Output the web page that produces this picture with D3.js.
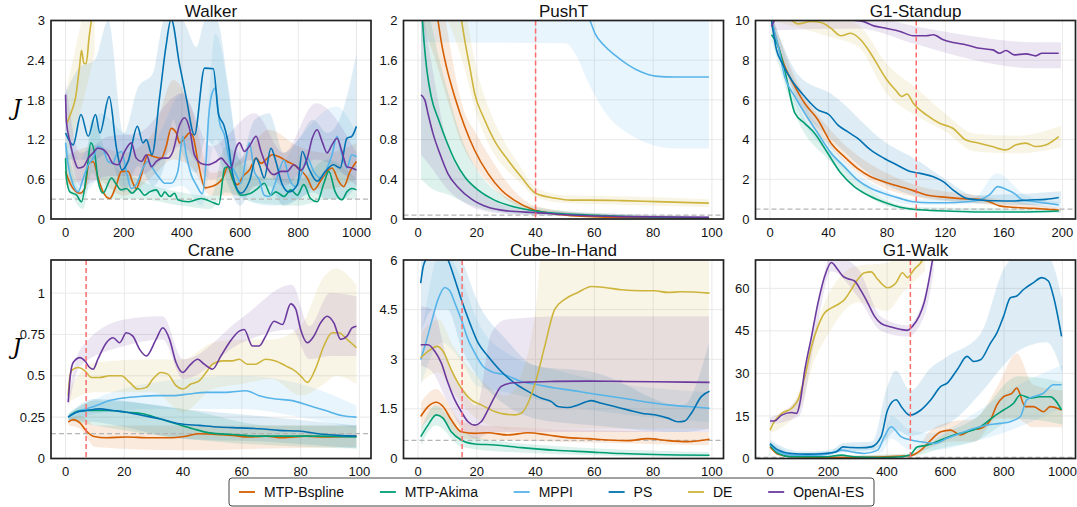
<!DOCTYPE html>
<html>
<head>
<meta charset="utf-8">
<script src="https://cdn.jsdelivr.net/npm/d3@7"></script>
<style>
  body { margin: 0; background: #fff; }
  svg { display: block; font-family: "Liberation Sans", Arial, sans-serif; }
  .grid line { stroke: #e9e9e9; stroke-width: 1; }
  .tick-label { font-size: 13px; fill: #111; }
  .title { font-size: 17px; fill: #111; }
  .frame { fill: none; stroke: #222; stroke-width: 1.7; }
  .mean { fill: none; stroke-width: 1.6; stroke-linejoin: round; }
  .band { opacity: 0.13; }
  .legend-text { font-size: 14px; fill: #111; }
</style>
</head>
<body>
<svg id="chart" width="1077" height="507"></svg>
<script>
// methods and colours
const methods = ['MTP-Bspline', 'MTP-Akima', 'MPPI', 'PS', 'DE', 'OpenAI-ES'];
const colors = ['#d55e00', '#009e73', '#56b4e9', '#0072b2', '#cdb43c', '#6c3a9e'];

// ---------- Walker ----------
const walkerBspline = [[0,0.72],[8,0.62],[26,0.46],[49,0.39],[66,0.46],[80,0.84],[95,0.87],[112,0.62],[129,0.41],[152,0.31],[175,0.52],[192,0.72],[215,0.72],[232,0.54],[243,0.46],[261,0.67],[283,0.97],[306,0.94],[329,0.92],[346,1.10],[363,1.37],[381,1.30],[392,1.15],[409,1.22],[426,1.30],[438,1.25],[455,0.87],[480,0.47],[501,0.49],[524,0.54],[541,0.62],[558,0.79],[575,0.59],[592,0.52],[609,0.64],[632,0.74],[655,0.92],[672,0.84],[694,0.92],[711,0.97],[734,0.94],[762,0.87],[785,0.82],[808,0.74],[831,0.62],[853,0.44],[876,0.57],[899,0.72],[916,0.77],[939,0.57],[956,0.49],[978,0.72],[1000,0.87]];
const walkerAkima = [[0,0.92],[3,0.62],[15,0.41],[38,0.36],[55,0.26],[72,0.67],[87,1.15],[101,0.97],[112,0.57],[129,0.39],[158,0.62],[175,0.52],[190,0.44],[209,0.46],[229,0.39],[249,0.46],[272,0.36],[289,0.41],[312,0.44],[329,0.34],[341,0.41],[358,0.34],[375,0.39],[386,0.29],[421,0.26],[466,0.31],[512,0.24],[527,0.22],[547,0.77],[558,0.79],[581,0.52],[603,0.36],[637,0.39],[660,0.46],[683,0.54],[706,0.36],[723,0.41],[751,0.34],[774,0.44],[797,0.36],[819,0.52],[842,0.31],[865,0.26],[888,0.54],[905,0.72],[927,0.41],[950,0.29],[967,0.41],[984,0.46],[1000,0.44]];
const walkerMPPI = [[0,1.15],[8,0.85],[26,0.52],[43,0.41],[61,0.62],[78,0.82],[95,0.92],[112,1.10],[129,1.05],[146,0.87],[163,0.84],[175,0.97],[192,1.02],[209,0.72],[226,0.46],[243,0.52],[266,0.77],[283,0.87],[306,0.72],[323,0.62],[341,0.54],[363,0.54],[386,0.72],[403,1.25],[415,0.97],[432,0.67],[449,0.52],[470,0.38],[482,0.8],[492,1.55],[506,1.93],[515,1.98],[529,1.47],[546,1.27],[564,0.87],[581,0.72],[592,0.62],[603,0.54],[620,0.92],[632,1.15],[649,0.72],[666,0.59],[683,0.36],[700,0.34],[723,0.57],[751,0.89],[768,0.62],[791,0.49],[814,0.72],[831,0.92],[853,0.72],[876,0.62],[899,0.77],[916,0.97],[933,1.25],[950,0.97],[967,0.77],[984,0.97],[1000,0.94]];
const walkerPS = [[0,1.30],[26,1.12],[53,1.58],[78,1.25],[103,1.58],[118,1.30],[150,1.85],[175,1.07],[194,0.74],[215,0.87],[247,1.40],[266,1.15],[278,1.20],[297,0.97],[323,1.83],[345,2.6],[363,3.02],[392,2.33],[415,1.83],[443,1.27],[478,2.28],[508,2.27],[526,1.58],[544,1.42],[556,1.22],[575,0.67],[603,0.39],[632,0.57],[655,0.92],[666,0.82],[683,0.62],[706,1.07],[723,0.87],[745,0.52],[768,0.41],[797,0.52],[814,1.02],[836,0.77],[865,0.57],[893,0.72],[921,0.82],[944,0.77],[967,1.22],[984,1.25],[1000,1.40]];
const walkerDE = [[5,1.45],[20,1.62],[35,1.85],[48,2.3],[55,2.55],[63,2.35],[71,2.35],[81,2.75],[90,3.05],[100,3.5]];
const walkerES = [[0,1.88],[3,1.47],[15,1.17],[32,0.87],[43,0.77],[61,0.79],[78,0.92],[95,1.0],[110,1.07],[129,1.05],[146,0.97],[163,0.84],[181,0.82],[203,1.02],[226,1.15],[243,0.92],[261,0.87],[278,0.97],[295,0.79],[312,0.87],[335,0.92],[352,0.92],[369,1.02],[392,1.42],[409,1.53],[426,1.37],[443,0.97],[466,0.84],[489,0.82],[518,0.87],[535,0.92],[552,0.84],[569,0.77],[586,1.07],[598,1.15],[615,1.02],[632,1.10],[655,1.25],[672,1.02],[694,0.77],[717,0.67],[740,0.72],[762,0.72],[785,0.82],[808,0.74],[831,0.92],[848,1.22],[865,1.35],[882,1.17],[899,1.0],[916,1.12],[933,1.22],[950,1.02],[967,0.79],[984,0.77],[1000,0.74]];
// bands: [x, low, high]
const walkerBsplineBand = [[0,0.5,0.95],[100,0.6,1.1],[200,0.35,1.0],[300,0.65,1.3],[370,0.9,2.1],[430,0.8,1.7],[500,0.35,0.7],[600,0.35,0.9],[700,0.6,1.35],[800,0.5,1.1],[900,0.45,1.0],[1000,0.6,1.15]];
const walkerAkimaBand = [[0,0.6,1.2],[60,0.15,0.4],[90,0.7,1.5],[150,0.3,0.9],[250,0.3,0.6],[400,0.2,0.4],[500,0.15,0.35],[550,0.4,1.1],[650,0.25,0.65],[800,0.2,0.6],[900,0.3,0.9],[1000,0.3,0.6]];
const walkerMPPIBand = [[0,0.8,1.5],[50,0.35,0.9],[120,0.6,1.6],[200,0.5,1.3],[300,0.4,1.2],[400,0.5,1.9],[470,0.2,0.7],[515,1.2,2.8],[600,0.35,1.0],[700,0.2,0.6],[800,0.3,1.2],[930,0.7,1.7],[1000,0.6,1.3]];
const walkerPSBand = [[0,0.9,1.9],[50,0.9,2.3],[100,0.9,2.4],[147,1.0,3.0],[200,0.4,1.3],[250,0.8,2.0],[300,0.5,2.2],[340,0.8,3.0],[370,1.5,3.0],[400,1.0,3.0],[450,0.7,2.6],[480,1.2,3.0],[520,1.0,3.0],[560,0.5,2.0],[600,0.2,0.9],[650,0.5,1.5],[700,0.5,1.6],[750,0.2,1.0],[800,0.3,1.2],[850,0.4,1.5],[900,0.3,1.3],[950,0.3,1.6],[1000,0.5,2.5]];
const walkerDEBand = [[5,1.0,2.0],[50,1.6,2.9],[100,2.5,4]];
const walkerESBand = [[0,1.5,2.1],[50,0.5,1.0],[150,0.65,1.25],[250,0.65,1.3],[400,1.1,1.9],[500,0.6,1.1],[650,0.9,1.6],[750,0.5,1.0],[860,0.9,1.75],[1000,0.5,1.0]];

// ---------- PushT ----------
const pushBspline = [[1,3.5],[4,2.6],[6.8,2.0],[8,1.77],[9.7,1.53],[12.5,1.23],[15.9,0.93],[19.3,0.69],[23.9,0.455],[28.4,0.29],[33,0.185],[38.6,0.10],[44.3,0.06],[52,0.034],[69,0.017],[99,0.01]];
const pushAkima = [[1,2.2],[2,1.8],[3,1.5],[4.5,1.23],[7,1.0],[10,0.76],[12.5,0.59],[16,0.42],[20.5,0.29],[26,0.19],[33,0.12],[40,0.08],[47,0.057],[58,0.04],[69,0.027],[81,0.017],[99,0.01]];
const pushMPPI = [[1,6],[30,4],[40,3.0],[50,2.4],[55,2.15],[58.5,2.0],[60.2,1.87],[63.6,1.74],[67,1.65],[71.6,1.55],[76,1.48],[80.7,1.44],[87.5,1.43],[99,1.43]];
const pushDE = [[1,4.5],[8,3.0],[14.8,2.0],[15.9,1.80],[17.6,1.53],[19.3,1.26],[22.2,1.03],[26,0.79],[30.7,0.59],[35.2,0.42],[40,0.26],[46.6,0.21],[52,0.19],[58,0.19],[69,0.185],[81,0.175],[99,0.16]];
const pushES = [[1,1.25],[2.3,1.2],[3.4,1.06],[5.1,0.86],[7.4,0.66],[10.2,0.455],[13.6,0.32],[18.2,0.20],[23.9,0.118],[29.5,0.084],[40,0.064],[52,0.04],[69,0.024],[99,0.017]];
const pushBsplineBand = [[1,2.0,4],[7,1.5,2.5],[10,1.2,1.9],[15,0.75,1.15],[20,0.5,0.85],[25,0.33,0.6],[30,0.2,0.38],[40,0.07,0.13],[60,0.02,0.05],[99,0.0,0.02]];
const pushAkimaBand = [[1,0.4,2.5],[5,0.3,1.9],[10,0.25,1.3],[15,0.18,0.8],[20,0.12,0.5],[30,0.06,0.22],[40,0.04,0.12],[60,0.02,0.06],[99,0.0,0.03]];
const pushMPPIBand = [[1,1.78,3],[50,1.77,3],[53.4,1.67,3],[58,1.37,3],[64.8,1.03,3],[71.6,0.86,3],[78.4,0.76,3],[87.5,0.71,3],[99,0.71,3]];
const pushDEBand = [[1,2.5,5],[15,1.6,2.3],[20,1.05,1.5],[25,0.7,1.05],[30,0.5,0.75],[35,0.36,0.52],[40,0.22,0.32],[50,0.16,0.24],[70,0.14,0.23],[99,0.12,0.2]];
const pushESBand = [[1,0.65,2.2],[5,0.5,1.5],[10,0.3,0.75],[15,0.18,0.45],[20,0.1,0.3],[30,0.05,0.13],[40,0.04,0.09],[99,0.005,0.03]];

// ---------- G1-Standup ----------
const standBspline = [[1,10],[5.6,8.7],[10,7.7],[17,6.67],[23.7,5.83],[32.7,5.0],[41.8,3.82],[50.8,3.14],[59.8,2.55],[68.8,2.13],[77.9,1.88],[89,1.63],[98,1.43],[107,1.21],[120.8,1.09],[134.3,1.01],[143.3,0.99],[150,0.87],[157,0.66],[166,0.59],[179.5,0.54],[197.5,0.45]];
const standAkima = [[1,9.28],[5.6,8.7],[10,7.51],[17,5.33],[23.7,4.82],[30.5,4.32],[39.5,3.31],[48.5,2.30],[57.6,1.63],[68.8,1.13],[80,0.79],[89,0.59],[98,0.49],[120.8,0.40],[143.3,0.35],[166,0.35],[197.5,0.40]];
const standMPPI = [[1,10],[5.6,8.7],[10,7.18],[17,6.17],[23.7,5.33],[32.7,4.32],[41.8,3.31],[50.8,2.64],[59.8,1.97],[68.8,1.55],[77.9,1.29],[89,1.04],[98,0.87],[109.5,0.82],[120.8,0.82],[134.3,0.87],[143.3,0.96],[150,1.21],[155.8,1.63],[161.4,1.50],[167,1.29],[172.7,0.96],[181.7,0.87],[197.5,0.71]];
const standPS = [[1,10],[4.5,8.5],[7.9,7.9],[14.7,7.0],[23.7,6.17],[32.7,5.5],[40.6,5.24],[46.3,4.74],[53,4.4],[59.8,4.07],[68.8,3.48],[77.9,3.06],[86.9,2.72],[96,2.39],[102.7,2.30],[111.7,2.13],[118.5,1.88],[125.3,1.46],[134.3,1.04],[143.3,0.96],[154.6,0.92],[165.9,0.91],[177.2,0.96],[188.5,0.99],[197.5,1.08]];
const standDE = [[1,11],[8,10.5],[14.7,10.0],[19,9.83],[28,9.95],[35,9.9],[41.8,9.6],[48.5,9.23],[55.3,9.36],[62,9.03],[68.8,8.35],[75.6,7.51],[80,7.0],[85.8,6.5],[90.3,6.17],[93.7,6.3],[98,5.83],[107,5.24],[116,4.82],[125,4.57],[134,3.98],[143,3.82],[152,3.65],[161.4,3.48],[168,3.73],[175,3.82],[181.7,3.65],[188.5,3.73],[197.5,4.15]];
const standES = [[1,9.7],[4,10.05],[20,10.1],[40,10.08],[62,9.98],[71,9.73],[80,9.6],[89,9.45],[98,9.23],[107,9.23],[111.7,9.28],[118.5,9.03],[125.3,8.89],[134.3,8.77],[143.3,8.6],[152.4,8.52],[157,8.35],[161.4,8.49],[167,8.27],[175,8.32],[181.7,8.22],[186,8.35],[197.5,8.35]];
const standBsplineBand = [[1,9.6,10.3],[20,5.7,6.7],[40,3.7,4.6],[80,1.5,2.3],[100,1.1,1.7],[140,0.8,1.2],[199,0.35,0.55]];
const standAkimaBand = [[1,9.0,9.6],[20,4.8,5.6],[40,3.0,3.6],[80,0.65,0.95],[100,0.4,0.6],[199,0.3,0.5]];
const standMPPIBand = [[1,9.6,10.3],[20,5.3,6.4],[40,3.3,3.9],[80,1.0,1.4],[100,0.7,1.0],[140,0.75,1.1],[155,1.0,2.3],[175,0.7,1.2],[199,0.55,0.85]];
const standPSBand = [[1,9.6,10.3],[20,5.8,7.2],[42,4.0,6.3],[80,1.7,3.8],[100,1.15,3.0],[120,0.95,2.0],[140,0.8,1.2],[180,0.7,1.3],[199,0.8,1.4]];
const standDEBand = [[1,10,11],[40,9.2,10.2],[60,8.7,9.8],[80,6.3,7.8],[100,5.2,6.6],[120,4.4,5.3],[140,3.4,4.3],[170,3.3,4.2],[199,3.6,4.7]];
const standESBand = [[1,9.5,10],[60,9.6,10.3],[100,8.8,9.7],[140,8.0,9.2],[180,7.6,8.9],[199,7.6,8.9]];

// ---------- Crane ----------
const craneBspline = [[0.9,0.22],[2.6,0.235],[4.9,0.215],[7.1,0.166],[9.4,0.135],[13.9,0.125],[20.7,0.13],[28.6,0.125],[35.4,0.125],[41,0.135],[45.5,0.15],[51.2,0.146],[56.8,0.14],[62.5,0.13],[68.1,0.135],[73.8,0.125],[81.7,0.135],[88.5,0.13],[99,0.135]];
const craneAkima = [[0.9,0.25],[4.9,0.29],[9.4,0.29],[15,0.29],[20.7,0.28],[26.3,0.27],[32,0.24],[37.6,0.21],[43.3,0.18],[48.9,0.155],[56.8,0.145],[66,0.135],[74.9,0.135],[86,0.135],[99,0.13]];
const craneMPPI = [[0.9,0.25],[3.7,0.28],[7.1,0.30],[10.5,0.32],[15,0.35],[19.5,0.365],[25.2,0.375],[30.8,0.38],[36.5,0.38],[42.1,0.39],[47.8,0.40],[54.6,0.40],[61.4,0.41],[65.9,0.38],[71.5,0.36],[77.2,0.35],[82.8,0.32],[88.5,0.29],[94,0.26],[99,0.25]];
const cranePS = [[0.9,0.25],[3.7,0.28],[7.1,0.29],[11.6,0.30],[16,0.29],[20.7,0.28],[26.3,0.26],[32,0.24],[38.8,0.21],[45.5,0.20],[52.3,0.19],[59,0.185],[66,0.18],[72.7,0.17],[79.4,0.166],[86,0.15],[93,0.14],[99,0.135]];
const craneDE = [[0.9,0.38],[1.5,0.50],[2.6,0.54],[4.3,0.55],[6.6,0.53],[8.8,0.49],[11.6,0.49],[15,0.50],[19,0.50],[21.8,0.46],[24.6,0.42],[27.5,0.43],[29.7,0.48],[32.5,0.52],[34.8,0.51],[37.6,0.44],[39.9,0.42],[42.7,0.45],[45.5,0.47],[47.8,0.52],[50,0.57],[53.4,0.59],[56.8,0.59],[59.1,0.60],[61.9,0.57],[64.7,0.57],[68.1,0.60],[71.5,0.59],[74.9,0.56],[77.2,0.54],[80,0.50],[82.3,0.46],[85,0.54],[87.9,0.68],[90.7,0.76],[93,0.76],[95.8,0.72],[99,0.67]];
const craneES = [[0.9,0.34],[1.5,0.48],[2.6,0.58],[4.9,0.61],[6.6,0.59],[8.2,0.55],[9.4,0.54],[11,0.60],[13.9,0.70],[16.2,0.73],[18.4,0.70],[20.7,0.76],[22.9,0.74],[25.2,0.66],[27.5,0.62],[30.8,0.72],[33.1,0.79],[35.4,0.72],[37.6,0.58],[39.9,0.52],[42.1,0.56],[45,0.60],[47.2,0.57],[50,0.54],[52.9,0.62],[55.7,0.70],[59.1,0.77],[60.8,0.78],[63.6,0.68],[65.9,0.68],[68.1,0.74],[71,0.83],[73.8,0.81],[76.6,0.935],[78.3,0.905],[80,0.78],[82.3,0.70],[84.5,0.74],[86.8,0.82],[89,0.86],[91.3,0.82],[93.6,0.72],[95.8,0.74],[97.5,0.79],[99,0.80]];
const craneBsplineBand = [[1,0.2,0.24],[5,0.18,0.26],[10,0.07,0.2],[40,0.05,0.2],[70,0.06,0.2],[99,0.07,0.2]];
const craneAkimaBand = [[1,0.23,0.27],[10,0.2,0.35],[40,0.12,0.3],[70,0.08,0.2],[99,0.06,0.2]];
const craneMPPIBand = [[1,0.23,0.27],[10,0.27,0.36],[30,0.3,0.46],[60,0.3,0.5],[80,0.25,0.45],[99,0.18,0.32]];
const cranePSBand = [[1,0.23,0.27],[10,0.22,0.36],[40,0.12,0.3],[70,0.1,0.25],[99,0.06,0.2]];
const craneDEBand = [[1,0.34,0.42],[10,0.4,0.58],[30,0.4,0.6],[40,0.28,0.6],[50,0.42,0.7],[60,0.45,0.72],[70,0.48,0.72],[80,0.38,0.8],[88,0.45,1.1],[92,0.5,1.15],[99,0.45,1.05]];
const craneESBand = [[1,0.3,0.38],[5,0.56,0.66],[20,0.68,0.84],[33,0.72,0.86],[40,0.48,0.6],[60,0.7,0.85],[77,0.78,1.05],[83,0.6,0.8],[90,0.62,1.0],[99,0.62,0.98]];

// ---------- Cube-In-Hand ----------
const cubeBspline = [[0.9,1.27],[3.4,1.57],[6.2,1.70],[8.5,1.57],[11.3,1.17],[14.7,0.81],[19.3,0.76],[23.8,0.78],[30.6,0.71],[37.4,0.78],[44.2,0.71],[51,0.63],[57.8,0.60],[64.6,0.56],[71.4,0.54],[78.2,0.60],[85,0.54],[91.8,0.51],[99.2,0.58]];
const cubeAkima = [[0.9,0.66],[3.4,1.01],[6.2,1.32],[8.5,1.22],[11.3,0.81],[14.7,0.56],[19.3,0.44],[26.1,0.41],[35.1,0.33],[46.5,0.25],[57.8,0.20],[69.2,0.15],[80.5,0.12],[99.2,0.10]];
const cubeMPPI = [[0.9,2.99],[2.3,3.39],[4.5,4.10],[6.8,4.81],[9.1,5.17],[10.8,5.07],[12.5,4.71],[14.7,4.20],[17,3.60],[19.3,3.19],[22.1,2.79],[24.9,2.63],[29.5,2.53],[35.1,2.33],[40.8,2.23],[46.5,2.13],[52.2,2.06],[57.8,1.98],[64.6,1.89],[71.4,1.80],[78.2,1.70],[85,1.62],[91.8,1.57],[99.2,1.52]];
const cubePS = [[0.9,5.30],[1.7,5.78],[2.8,6.05],[5,6.4],[8,6.3],[10.2,6.0],[12.5,5.42],[14.7,4.81],[17.6,4.10],[20.4,3.50],[23.8,3.09],[28.3,2.63],[32.9,2.28],[37.4,2.03],[42,1.82],[45.4,1.72],[47.6,1.57],[51,1.54],[54.4,1.62],[59,1.75],[62.4,1.67],[66.9,1.57],[71.4,1.47],[76,1.37],[80.5,1.32],[85,1.22],[88.4,1.11],[90.7,1.13],[93,1.37],[96.4,1.87],[99.2,2.03]];
const cubeDE = [[0.9,3.04],[3.4,3.24],[6.6,3.39],[8.5,3.24],[11.3,2.68],[14.7,2.13],[18.1,1.77],[21.5,1.62],[26.1,1.42],[29.5,1.34],[32.9,1.32],[35.1,1.37],[37.4,1.67],[40.2,2.38],[43.1,3.39],[46.5,4.51],[49.9,4.81],[54.4,5.02],[59,5.2],[63.5,5.17],[69.2,5.10],[76,5.07],[80.5,5.07],[85,5.02],[89.6,5.04],[99.2,5.0]];
const cubeES = [[0.9,3.44],[3.4,3.44],[5.7,3.24],[7.9,2.89],[10.2,2.28],[12.5,1.77],[14.7,1.42],[17,1.11],[19.3,1.01],[21.5,1.11],[23.8,1.47],[26.1,1.87],[28.3,2.18],[31.7,2.28],[37.4,2.31],[46.5,2.33],[57.8,2.34],[69.2,2.33],[80.5,2.32],[99.2,2.30]];
const cubeBsplineBand = [[1,0.9,1.7],[6,1.3,2.1],[15,0.6,1.1],[30,0.55,0.95],[99,0.4,0.8]];
const cubeAkimaBand = [[1,0.4,0.9],[6,1.0,1.6],[15,0.35,0.8],[30,0.2,0.5],[99,0.03,0.2]];
const cubeMPPIBand = [[1,2.2,3.6],[8,3.5,6.3],[15,2.9,5.4],[20,2.2,4.2],[30,2.0,3.2],[50,1.6,2.6],[99,1.1,2.0]];
const cubePSBand = [[1,3.8,6.5],[5,4.5,7],[10,4.5,7],[15,3.3,6],[20,2.5,4.8],[30,1.6,3.6],[40,1.2,2.8],[60,1.0,2.6],[90,0.8,1.6],[99,0.9,3.5]];
const cubeDEBand = [[1,2.3,3.8],[7,2.6,4.2],[12,2.0,3.4],[20,1.2,2.5],[30,0.9,1.9],[35,0.9,2.5],[40,0.9,4.5],[43,0.9,7],[99,0.9,7]];
const cubeESBand = [[1,2.8,4.6],[5,2.6,4.5],[10,1.7,3.0],[15,0.9,2.1],[20,0.6,1.6],[25,0.8,3.8],[30,0.8,4.2],[50,0.8,4.3],[99,0.8,4.3]];

// ---------- G1-Walk ----------
const gwalkBspline = [[0,4.1],[28,1.5],[74,0.6],[266,0.35],[478,0.95],[516,2.95],[550,6.5],[584,9.4],[618,10.0],[652,8.3],[686,10.0],[720,10.6],[754,13.6],[776,18.9],[799,21.8],[827,23.0],[844,24.8],[873,18.3],[901,18.3],[935,16.5],[958,18.3],[997,17.1]];
const gwalkAkima = [[0,4.7],[28,1.77],[74,0.6],[187,0.6],[244,1.2],[289,0.6],[380,0.35],[448,0.6],[478,1.2],[504,4.1],[538,4.7],[584,6.5],[629,8.3],[674,9.4],[720,11.2],[765,14.8],[799,17.1],[833,19.5],[856,22.4],[890,21.3],[923,21.8],[958,21.8],[997,17.1]];
const gwalkMPPI = [[0,5.1],[28,2.36],[74,1.18],[153,1.18],[198,1.53],[244,2.95],[278,2.36],[323,1.77],[368,2.95],[391,7.7],[414,11.2],[448,7.7],[482,6.5],[516,5.9],[561,5.3],[606,7.1],[652,8.9],[697,10.6],[742,11.8],[788,12.4],[822,13.0],[856,14.8],[878,20.7],[901,21.8],[935,23.0],[969,26.0],[997,26.0]];
const gwalkPS = [[0,5.3],[28,2.95],[74,1.77],[130,1.53],[187,1.77],[227,2.36],[249,4.1],[278,3.9],[312,3.8],[346,4.1],[380,7.7],[402,17.1],[431,20.7],[453,17.7],[478,15.3],[516,17.1],[550,20.7],[584,25.4],[606,26.6],[640,31.3],[674,36.0],[697,34.2],[720,34.8],[754,40.7],[776,44.3],[799,50.2],[822,56.7],[844,57.3],[867,59.6],[901,62.0],[929,63.8],[952,62.6],[969,57.3],[997,43.1]];
const gwalkDE = [[0,10.0],[11,12.4],[40,15.9],[74,17.7],[96,20.7],[119,28.9],[142,39.6],[164,46.6],[187,51.4],[210,53.1],[232,54.3],[255,56.1],[278,59.6],[300,63.2],[323,65.5],[346,65.8],[368,63.2],[402,60.2],[431,62.0],[453,65.5],[470,63.8],[493,66.7],[516,69.1],[535,73]];
const gwalkES = [[0,13.2],[17,13.3],[40,15.3],[74,16.2],[91,15.9],[102,19.5],[119,31.3],[142,43.1],[164,54.9],[187,64.3],[210,69.1],[227,67.3],[249,64.3],[266,63.4],[289,62.6],[312,59.0],[334,54.9],[357,50.2],[380,47.6],[414,46.4],[448,45.5],[470,45.2],[487,46.6],[510,50.2],[527,54.9],[544,63.2],[555,69.7],[565,76]];
const gwalkBsplineBand = [[0,3.5,5],[100,0.3,0.9],[480,0.6,1.4],[550,4,10],[620,6,13],[700,6,14],[776,14,25],[844,14,37],[900,11,26],[1000,11,24]];
const gwalkAkimaBand = [[0,4,5.5],[100,0.3,0.9],[480,0.8,1.8],[600,4,9],[700,6,14],[850,14,29],[1000,12,27]];
const gwalkMPPIBand = [[0,4,6],[100,0.8,1.6],[250,2,4],[380,2,5],[414,7,15],[480,3,10],[560,3,9],[700,6,16],[850,11,26],[1000,18,33]];
const gwalkPSBand = [[0,4,6.5],[100,1,2.5],[200,1,2.5],[250,2.5,5.5],[350,3,6],[400,7,25],[430,10,31],[480,8,24],[550,10,32],[606,12,36],[720,23,44],[800,33,67],[850,38,72],[946,41,72],[1000,30,56]];
const gwalkDEBand = [[0,9,11],[100,17,24],[150,34,44],[200,44,58],[300,55,68],[400,52,69],[450,58,72],[530,66,76]];
const gwalkESBand = [[0,12,14.5],[100,15,22],[150,40,47],[210,66,72],[300,57,67],[380,45,50],[470,43,47],[530,51,58],[560,66,74]];

// axis ticks
const xTicks1000 = [0, 200, 400, 600, 800, 1000];
const xTicks100 = [0, 20, 40, 60, 80, 100];
const xTicks200 = [0, 40, 80, 120, 160, 200];

// panel table built from the arrays above
const panels = [
  { title: 'Walker', row: 0, col: 0, xDomain: [-50, 1050], yDomain: [0, 3], xTicks: xTicks1000,
    yTicks: [0, 0.6, 1.2, 1.8, 2.4, 3], red: null, gray: 0.3, ylabel: true,
    lines: [walkerBspline, walkerAkima, walkerMPPI, walkerPS, walkerDE, walkerES],
    bands: [walkerBsplineBand, walkerAkimaBand, walkerMPPIBand, walkerPSBand, walkerDEBand, walkerESBand] },
  { title: 'PushT', row: 0, col: 1, xDomain: [-4.95, 103.95], yDomain: [0, 2], xTicks: xTicks100,
    yTicks: [0, 0.4, 0.8, 1.2, 1.6, 2], red: 40, gray: 0.04,
    lines: [pushBspline, pushAkima, pushMPPI, null, pushDE, pushES],
    bands: [pushBsplineBand, pushAkimaBand, pushMPPIBand, null, pushDEBand, pushESBand] },
  { title: 'G1-Standup', row: 0, col: 2, xDomain: [-9.95, 208.95], yDomain: [0, 10], xTicks: xTicks200,
    yTicks: [0, 2, 4, 6, 8, 10], red: 100, gray: 0.5,
    lines: [standBspline, standAkima, standMPPI, standPS, standDE, standES],
    bands: [standBsplineBand, standAkimaBand, standMPPIBand, standPSBand, standDEBand, standESBand] },
  { title: 'Crane', row: 1, col: 0, xDomain: [-4.95, 103.95], yDomain: [0, 1.2], xTicks: xTicks100,
    yTicks: [0, 0.25, 0.5, 0.75, 1], red: 7, gray: 0.15, ylabel: true,
    lines: [craneBspline, craneAkima, craneMPPI, cranePS, craneDE, craneES],
    bands: [craneBsplineBand, craneAkimaBand, craneMPPIBand, cranePSBand, craneDEBand, craneESBand] },
  { title: 'Cube-In-Hand', row: 1, col: 1, xDomain: [-4.95, 103.95], yDomain: [0, 6], xTicks: xTicks100,
    yTicks: [0, 1.5, 3, 4.5, 6], red: 15, gray: 0.55,
    lines: [cubeBspline, cubeAkima, cubeMPPI, cubePS, cubeDE, cubeES],
    bands: [cubeBsplineBand, cubeAkimaBand, cubeMPPIBand, cubePSBand, cubeDEBand, cubeESBand] },
  { title: 'G1-Walk', row: 1, col: 2, xDomain: [-49.75, 1044.75], yDomain: [0, 70], xTicks: xTicks1000,
    yTicks: [0, 15, 30, 45, 60], red: 480, gray: 0.4,
    lines: [gwalkBspline, gwalkAkima, gwalkMPPI, gwalkPS, gwalkDE, gwalkES],
    bands: [gwalkBsplineBand, gwalkAkimaBand, gwalkMPPIBand, gwalkPSBand, gwalkDEBand, gwalkESBand] }
];

// layout
const colX = [51, 403.5, 755.5];
const rowY = [20.5, 260];
const plotW = 320;
const plotH = 198.5;

const svg = d3.select('#chart');
const defs = svg.append('defs');
const fmt = d3.format('~g');

panels.forEach((p, i) => {
  const x0 = colX[p.col], y0 = rowY[p.row];
  const g = svg.append('g').attr('transform', `translate(${x0},${y0})`);
  const x = d3.scaleLinear().domain(p.xDomain).range([0, plotW]);
  const y = d3.scaleLinear().domain(p.yDomain).range([plotH, 0]);

  const clipId = `clip-${i}`;
  defs.append('clipPath').attr('id', clipId)
    .append('rect').attr('width', plotW).attr('height', plotH);

  // grid
  g.append('g').attr('class', 'grid')
    .selectAll('line').data(p.xTicks).join('line')
    .attr('x1', d => x(d)).attr('x2', d => x(d)).attr('y1', 0).attr('y2', plotH);
  g.append('g').attr('class', 'grid')
    .selectAll('line').data(p.yTicks).join('line')
    .attr('x1', 0).attr('x2', plotW).attr('y1', d => y(d)).attr('y2', d => y(d));

  const plot = g.append('g').attr('clip-path', `url(#${clipId})`);

  // bands
  const area = d3.area().curve(d3.curveMonotoneX)
    .x(d => x(d[0])).y0(d => y(d[1])).y1(d => y(d[2]));
  p.bands.forEach((b, k) => {
    if (!b) return;
    plot.append('path').attr('class', 'band').attr('d', area(b)).attr('fill', colors[k]);
  });

  // reference lines
  if (p.gray !== null) {
    plot.append('line')
      .attr('x1', 0).attr('x2', plotW).attr('y1', y(p.gray)).attr('y2', y(p.gray))
      .attr('stroke', '#b5b5b5').attr('stroke-width', 1.3).attr('stroke-dasharray', '5,3');
  }

  // means
  const line = d3.line().curve(d3.curveMonotoneX).x(d => x(d[0])).y(d => y(d[1]));
  p.lines.forEach((l, k) => {
    if (!l) return;
    plot.append('path').attr('class', 'mean').attr('d', line(l)).attr('stroke', colors[k]);
  });

  if (p.red !== null) {
    plot.append('line')
      .attr('x1', x(p.red)).attr('x2', x(p.red)).attr('y1', 0).attr('y2', plotH)
      .attr('stroke', '#ff6b6b').attr('stroke-width', 1.5).attr('stroke-dasharray', '5,3');
  }

  // frame
  g.append('rect').attr('class', 'frame').attr('width', plotW).attr('height', plotH);

  // tick labels
  g.append('g').selectAll('text').data(p.xTicks).join('text')
    .attr('class', 'tick-label')
    .attr('x', d => x(d)).attr('y', plotH + 17.5)
    .attr('text-anchor', 'middle').text(d => fmt(d));
  g.append('g').selectAll('text').data(p.yTicks).join('text')
    .attr('class', 'tick-label')
    .attr('x', -6).attr('y', d => y(d) + 4.6)
    .attr('text-anchor', 'end').text(d => fmt(d));

  g.append('text').attr('class', 'title')
    .attr('x', plotW / 2).attr('y', -4)
    .attr('text-anchor', 'middle').text(p.title);

  if (p.ylabel) {
    g.append('text')
      .attr('x', 17 - x0).attr('y', plotH / 2 - 5)
      .attr('text-anchor', 'middle')
      .style('font-family', '"DejaVu Serif", serif')
      .style('font-style', 'italic')
      .style('font-size', '22px')
      .text('J');
  }
});

// legend
const legX = 229, legY = 478, legW = 645, legH = 28;
const legend = svg.append('g');
legend.append('rect')
  .attr('x', legX).attr('y', legY).attr('width', legW).attr('height', legH)
  .attr('rx', 3).attr('fill', '#fff').attr('stroke', '#444').attr('stroke-width', 1);

const handleLen = 16, handlePad = 9, edgePad = 10;
const items = methods.map((m, k) => {
  const it = legend.append('g');
  it.append('line').attr('x1', 0).attr('x2', handleLen).attr('y1', 0).attr('y2', 0)
    .attr('stroke', colors[k]).attr('stroke-width', 1.8);
  const t = it.append('text').attr('class', 'legend-text')
    .attr('x', handleLen + handlePad).attr('y', 5).text(m);
  return { g: it, w: handleLen + handlePad + t.node().getComputedTextLength() };
});
const totalW = d3.sum(items, d => d.w);
const gap = (legW - 2 * edgePad - totalW) / (items.length - 1);
let cx = legX + edgePad;
items.forEach(it => {
  it.g.attr('transform', `translate(${cx},${legY + legH / 2})`);
  cx += it.w + gap;
});
</script>
</body>
</html>
